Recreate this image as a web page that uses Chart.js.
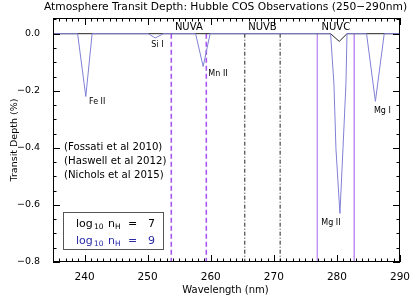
<!DOCTYPE html>
<html>
<head>
<meta charset="utf-8">
<script src="https://cdn.jsdelivr.net/npm/chart.js@4.4.1/dist/chart.umd.min.js"></script>
<style>
  html, body { margin: 0; padding: 0; background: #fff; }
  #wrap { width: 415px; height: 297px; }
</style>
</head>
<body>
<div id="wrap"><canvas id="transitChart" width="415" height="297"></canvas></div>
<script>
// model with log10 nH = 9 (blue)
var wave9  = [235, 238.9, 240.2, 241.2, 250.1, 251.2, 252.5, 257.6, 258.8, 259.9,
              279.0, 279.53, 279.85, 280.48, 280.96, 281.43, 281.6, 284.7, 286.1, 287.5, 290];
var depth9 = [0, 0, -0.22, 0, 0, -0.015, 0, 0, -0.115, 0,
              0, -0.177, -0.404, -0.63, -0.404, -0.177, 0, 0, -0.237, 0, 0];
// model with log10 nH = 7 (black), only shows at Mg II
var wave7  = [235, 279.0, 280.37, 281.6, 290];
var depth7 = [0, 0, -0.027, 0, 0];

// COS NUV stripes
var bandNames = ['NUVA', 'NUVB', 'NUVC'];
var bandLo    = [253.75, 265.4, 276.9];
var bandHi    = [259.3, 271.0, 282.75];

// absorption line labels (text centre, in data units)
var lineNames = ['Fe II', 'Si I', 'Mn II', 'Mg II', 'Mg I'];
var lineWave  = [242.0, 251.55, 261.15, 279.05, 287.2];
var lineDepth = [-0.239, -0.039, -0.14, -0.663, -0.27];

var refs = ['(Fossati et al 2010)', '(Haswell et al 2012)', '(Nichols et al 2015)'];
var xTicks = [240, 250, 260, 270, 280, 290];
var yTicks = [0, -0.2, -0.4, -0.6, -0.8];

var FONT = "'DejaVu Sans', sans-serif";

function pts(xs, ys) {
    return xs.map(function(x, i) { return {x: x, y: ys[i]}; });
}

var datasets = [
    {data: pts(wave9, depth9), borderColor: '#8080d6', borderWidth: 1, order: 0},
    {data: pts(wave7, depth7), borderColor: '#222222', borderWidth: 1, order: 1}
];
// band edges as vertical lines from 0 down to the bottom
var edgeStyle = [
    {color: 'rgb(168,86,240)', dash: [5, 3], width: 1.6},
    {color: '#222222', dash: [4, 2, 1, 2], width: 1},
    {color: 'rgb(192,146,242)', dash: [], width: 1}
];
for (var b = 0; b < bandNames.length; b++) {
    [bandLo[b], bandHi[b]].forEach(function(w) {
        datasets.push({
            data: [{x: w, y: 0}, {x: w, y: -0.8}],
            borderColor: edgeStyle[b].color,
            borderDash: edgeStyle[b].dash,
            borderWidth: edgeStyle[b].width,
            order: 2
        });
    });
}

var idlFrame = {
    id: 'idlFrame',
    afterDraw: function(chart) {
        var ctx = chart.ctx, a = chart.chartArea;
        var xs = chart.scales.x, ys = chart.scales.y;
        ctx.save();
        ctx.strokeStyle = '#000';
        ctx.lineWidth = 1;
        ctx.strokeRect(a.left + 0.5, a.top + 0.5, a.right - a.left - 1, a.bottom - a.top - 1);

        // ticks on all four sides, pointing in
        ctx.beginPath();
        for (var w = 235; w <= 290; w++) {
            var px = Math.round(xs.getPixelForValue(w)) + 0.5;
            var len = (w % 10 === 0) ? 7 : 3.5;
            ctx.moveTo(px, a.bottom); ctx.lineTo(px, a.bottom - len);
            ctx.moveTo(px, a.top); ctx.lineTo(px, a.top + len);
        }
        for (var k = 0; k <= 17; k++) {
            var v = -0.8 + k * 0.05;
            var py = Math.round(ys.getPixelForValue(v)) + 0.5;
            var l2 = (k % 4 === 0) ? 7 : 3.5;
            ctx.moveTo(a.left, py); ctx.lineTo(a.left + l2, py);
            ctx.moveTo(a.right, py); ctx.lineTo(a.right - l2, py);
        }
        ctx.stroke();

        ctx.fillStyle = '#000';
        ctx.textBaseline = 'middle';

        // title and axis titles
        ctx.textAlign = 'center';
        ctx.font = '10.7px ' + FONT;
        ctx.fillText('Atmosphere Transit Depth: Hubble COS Observations (250\u2212290nm)', (a.left + a.right) / 2 - 1, 7);
        ctx.font = '10px ' + FONT;
        ctx.fillText('Wavelength (nm)', (a.left + a.right) / 2 - 1, 290);
        ctx.save();
        ctx.translate(15, (a.top + a.bottom) / 2);
        ctx.rotate(-Math.PI / 2);
        ctx.font = '9.5px ' + FONT;
        ctx.fillText('Transit Depth (%)', 0, 0);
        ctx.restore();

        // band names
        ctx.font = '10px ' + FONT;
        for (var i = 0; i < bandNames.length; i++) {
            ctx.fillText(bandNames[i], xs.getPixelForValue((bandLo[i] + bandHi[i]) / 2), a.top + 9);
        }
        // line ids
        ctx.font = '8px ' + FONT;
        for (var j = 0; j < lineNames.length; j++) {
            ctx.fillText(lineNames[j], xs.getPixelForValue(lineWave[j]), ys.getPixelForValue(lineDepth[j]));
        }
        // references
        ctx.textAlign = 'left';
        ctx.font = '10.2px ' + FONT;
        for (var r = 0; r < refs.length; r++) {
            ctx.fillText(refs[r], a.left + 11, 147.5 + r * 14);
        }

        // legend box
        var bx = a.left + 10, by = 212;
        ctx.strokeStyle = '#555';
        ctx.strokeRect(bx + 0.5, by + 0.5, 100, 37);
        var rows = [['7', '#000', 224], ['9', '#2a2aa8', 241]];
        rows.forEach(function(row) {
            var y = row[2];
            ctx.fillStyle = row[1];
            ctx.font = '11px ' + FONT;
            ctx.fillText('log', bx + 13, y);
            ctx.fillText('n', bx + 45, y);
            ctx.fillText('=', bx + 65, y);
            ctx.fillText(row[0], bx + 85, y);
            ctx.font = '7.5px ' + FONT;
            ctx.fillText('10', bx + 31, y + 3);
            ctx.fillText('H', bx + 52, y + 3);
        });
        ctx.restore();
    }
};

new Chart(document.getElementById('transitChart'), {
    type: 'line',
    data: {datasets: datasets},
    options: {
        responsive: false,
        devicePixelRatio: 1,
        animation: false,
        parsing: true,
        elements: {point: {radius: 0}, line: {tension: 0, fill: false}},
        layout: {padding: {top: 18, right: 15, left: 0, bottom: 0}},
        plugins: {legend: {display: false}, tooltip: {enabled: false}, title: {display: false}},
        scales: {
            x: {
                type: 'linear', min: 235, max: 290,
                afterBuildTicks: function(s) { s.ticks = xTicks.map(function(v) { return {value: v}; }); },
                afterFit: function(s) { s.height = 35; },
                grid: {display: false},
                border: {display: false},
                ticks: {color: '#000', padding: 1, maxRotation: 0, font: {family: FONT, size: 10.5},
                        callback: function(v) { return String(v); }}
            },
            y: {
                type: 'linear', min: -0.8, max: 0.055,
                afterBuildTicks: function(s) { s.ticks = yTicks.map(function(v) { return {value: v}; }); },
                afterFit: function(s) { s.width = 53; },
                grid: {display: false},
                border: {display: false},
                ticks: {color: '#000', padding: 5, font: {family: FONT, size: 9.5},
                        callback: function(v) { return v.toFixed(1).replace('-', '\u2212'); }}
            }
        }
    },
    plugins: [idlFrame]
});
</script>
</body>
</html>
